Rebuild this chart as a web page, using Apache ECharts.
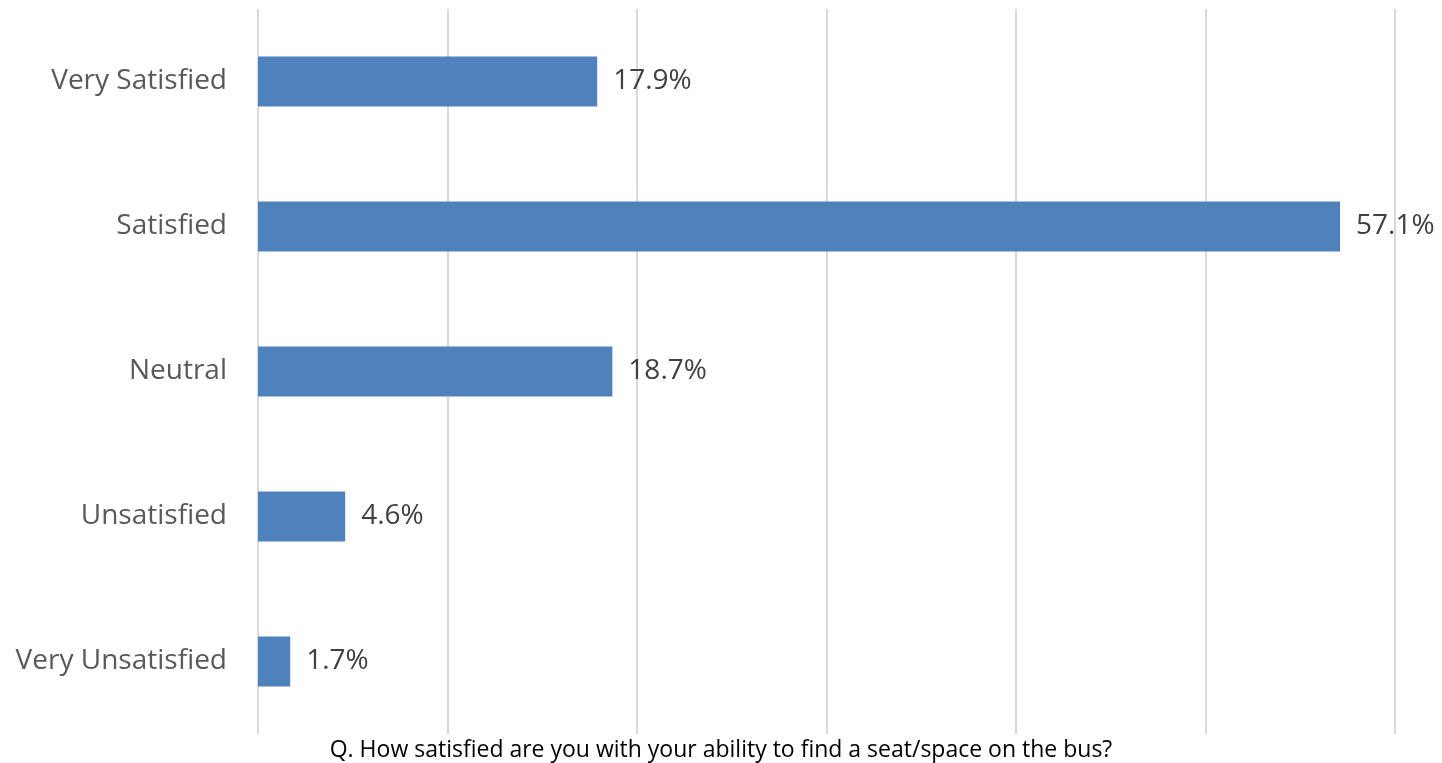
<!DOCTYPE html>
<html>
<head>
<meta charset="utf-8">
<script src="https://cdn.jsdelivr.net/npm/echarts@6/dist/echarts.min.js"></script>
<style>
html,body{margin:0;padding:0;background:#fff;}
#chart{width:1442px;height:763px;}
</style>
</head>
<body>
<div id="chart"></div>
<script>
const categories = ["Very Satisfied", "Satisfied", "Neutral", "Unsatisfied", "Very Unsatisfied"];
const values = [17.9, 57.1, 18.7, 4.6, 1.7];
const xTicks = [0, 10, 20, 30, 40, 50, 60];
const titleText = "Q. How satisfied are you with your ability to find a seat/space on the bus?";

const FONT = "'Open Sans', Lato, sans-serif";
const chart = echarts.init(document.getElementById('chart'), null, {renderer: 'canvas'});
chart.setOption({
  animation: false,
  backgroundColor: '#ffffff',
  title: {
    text: titleText,
    left: 'center',
    bottom: -4,
    textStyle: {fontFamily: FONT, fontSize: 23, fontWeight: 'normal', color: '#000000'}
  },
  grid: {left: 258, right: 47, top: 9, bottom: 29, containLabel: false},
  xAxis: {
    type: 'value',
    min: xTicks[0],
    max: xTicks[xTicks.length - 1],
    interval: xTicks[1] - xTicks[0],
    axisLabel: {show: false},
    axisLine: {show: false},
    axisTick: {show: false},
    splitLine: {show: true, lineStyle: {color: '#d9d9d9', width: 2}}
  },
  yAxis: {
    type: 'category',
    data: categories,
    inverse: true,
    axisLine: {show: false},
    axisTick: {show: false},
    axisLabel: {fontFamily: FONT, fontSize: 28, color: '#595959', margin: 31, padding: [4, 0, 0, 0]}
  },
  series: [{
    type: 'bar',
    data: values,
    barCategoryGap: '65.5%',
    itemStyle: {color: '#4f81bd'},
    label: {
      show: true,
      position: 'right',
      distance: 16,
      padding: [4, 0, 0, 0],
      formatter: p => p.value.toFixed(1) + '%',
      fontFamily: FONT,
      fontSize: 28,
      color: '#404040'
    }
  }]
});
</script>
</body>
</html>
